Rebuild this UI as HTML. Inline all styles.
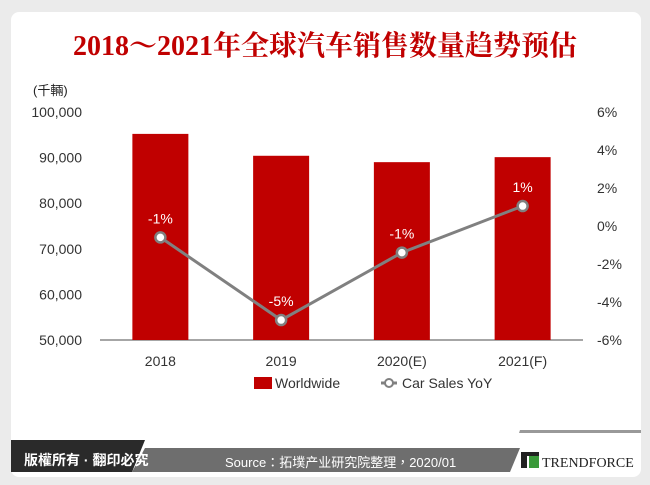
<!DOCTYPE html>
<html><head><meta charset="utf-8"><style>
body{margin:0;width:650px;height:485px;background:#ebebeb;overflow:hidden;font-family:"Liberation Sans","Noto Sans CJK TC",sans-serif;}
#card{position:absolute;left:11px;top:12px;width:630px;height:465px;background:#fff;border-radius:8px;}
svg{position:absolute;left:0;top:0}
</style></head><body>
<div id="card"></div>
<svg id="chart" width="650" height="485">
<text x="325" y="55" text-anchor="middle" font-family="Liberation Serif,'Noto Serif CJK SC',serif" font-weight="bold" font-size="28" fill="#c00000">2018～2021年全球汽车销售数量趋势预估</text>
<text x="33" y="95" font-size="13" fill="#222">(千輛)</text>
<g id="axes"></g><g id="bars"></g><g id="line"></g>
<g>
<rect x="254" y="377" width="18" height="12" fill="#c00000"/>
<text x="275" y="388" font-size="14" fill="#333">Worldwide</text>
<line x1="381" y1="383" x2="397" y2="383" stroke="#808080" stroke-width="3"/>
<circle cx="389" cy="383" r="4" fill="#fff" stroke="#808080" stroke-width="2"/>
<text x="402" y="388" font-size="14" fill="#333">Car Sales YoY</text>
</g>
<g>
<polygon points="520,430 641,430 641,433 519,433" fill="#999"/>
<polygon points="11,440 145,440 132,472 11,472" fill="#2a2a2a"/>
<polygon points="145,448 520,448 510,472 132,472" fill="#6e6e6e"/>
<text x="24" y="465" font-size="14" font-weight="bold" fill="#fff">版權所有 · 翻印必究</text>
<text x="225" y="467" font-size="13" fill="#fff">Source：拓墣产业研究院整理，2020/01</text>
<rect x="521" y="452" width="18" height="4" fill="#222"/><rect x="521" y="456" width="6" height="12" fill="#222"/>
<rect x="529" y="456" width="10" height="12" fill="#3a9a3a"/>
<text x="542" y="467" font-family="Liberation Serif,serif" font-size="14" fill="#222">TRENDFORCE</text>
</g>
</svg>
<script>
const categories=["2018","2019","2020(E)","2021(F)"];
const sales=[95200,90400,89000,90100];
const yoy=[-0.6,-4.95,-1.4,1.05];
const yoyLabels=["-1%","-5%","-1%","1%"];
const leftTicks=[50000,60000,70000,80000,90000,100000];
const rightTicks=[-6,-4,-2,0,2,4,6];
const NS="http://www.w3.org/2000/svg";
const X0=100,X1=583,YT=112,YB=340;
const band=(X1-X0)/categories.length;
const xc=i=>X0+band*(i+0.5);
const yL=v=>YB-(v-50000)/50000*(YB-YT);
const yR=v=>YB-(v+6)/12*(YB-YT);
function mk(tag,attrs,parent,txt){const e=document.createElementNS(NS,tag);for(const k in attrs)e.setAttribute(k,attrs[k]);if(txt!==undefined)e.textContent=txt;parent.appendChild(e);return e;}
const axes=document.getElementById('axes'),bars=document.getElementById('bars'),line=document.getElementById('line');
leftTicks.forEach(t=>{const e=mk('text',{x:82,y:yL(t)+5,'text-anchor':'end','font-size':14,fill:'#333'},axes,t.toLocaleString('en-US'));

});
rightTicks.forEach(t=>{const e=mk('text',{x:597,y:yR(t)+5,'font-size':14,fill:'#333'},axes,t+'%');

});
const base=mk('line',{x1:X0,y1:YB,x2:X1,y2:YB,stroke:'#888','stroke-width':1.5},axes);


categories.forEach((c,i)=>{const e=mk('text',{x:xc(i),y:366,'text-anchor':'middle','font-size':14,fill:'#333'},axes,c);


const b=mk('rect',{x:xc(i)-28,y:yL(sales[i]),width:56,height:YB-yL(sales[i]),fill:'#c00000'},bars);

});
const pts=yoy.map((v,i)=>xc(i)+','+yR(v)).join(' ');
const pl=mk('polyline',{points:pts,fill:'none',stroke:'#808080','stroke-width':3},line);


yoy.forEach((v,i)=>{const c=mk('circle',{cx:xc(i),cy:yR(v),r:5,fill:'#fff',stroke:'#808080','stroke-width':2.5},line);


const t=mk('text',{x:xc(i),y:yR(v)-14,'text-anchor':'middle','font-size':14,fill:'#fff'},line,yoyLabels[i]);

});
</script>
</body></html>
